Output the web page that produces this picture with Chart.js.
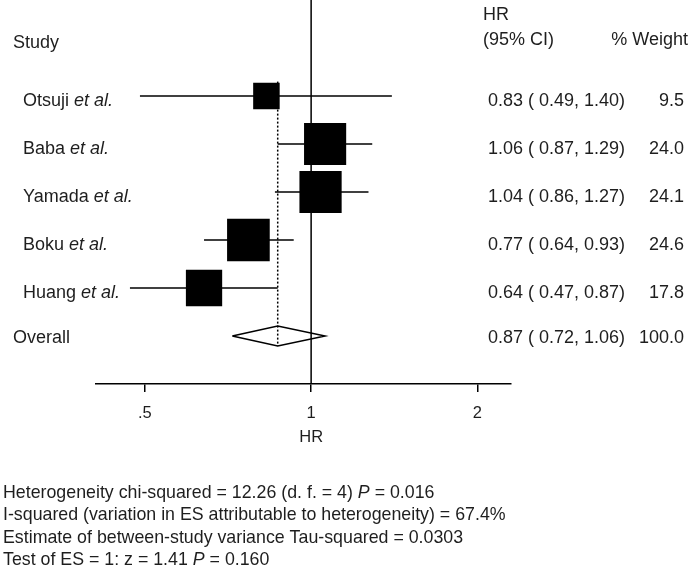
<!DOCTYPE html>
<html>
<head>
<meta charset="utf-8">
<script src="https://cdn.jsdelivr.net/npm/chart.js@4"></script>
<style>
  html, body { margin: 0; padding: 0; background: #fff; }
</style>
</head>
<body>
<canvas id="forest" width="689" height="578"></canvas>
<script>
// study-level estimates (hazard ratios, 95% CI, % weight)
const studies = ['Otsuji', 'Baba', 'Yamada', 'Boku', 'Huang'];
const hr = [0.83, 1.06, 1.04, 0.77, 0.64];
const lower = [0.49, 0.87, 0.86, 0.64, 0.47];
const upper = [1.40, 1.29, 1.27, 0.93, 0.87];
const weights = [9.5, 24.0, 24.1, 24.6, 17.8];
// pooled estimate: HR, lower, upper
const overall = [0.87, 0.72, 1.06];
const overallWeight = 100.0;
const xTicks = [0.5, 1, 2];
const xTickLabels = ['.5', '1', '2'];
const stats = [
  [['Heterogeneity chi-squared = 12.26 (d. f. = 4) ', false], ['P', true], [' = 0.016', false]],
  [['I-squared (variation in ES attributable to heterogeneity) = 67.4%', false]],
  [['Estimate of between-study variance Tau-squared = 0.0303', false]],
  [['Test of ES = 1: z = 1.41 ', false], ['P', true], [' = 0.160', false]]
];

const FONT = '"Liberation Sans", Arial, sans-serif';
const INK = '#1e1e1e';
const overallRow = studies.length;

const lineDs = (pts, extra) => Object.assign({
  data: pts, showLine: true, borderColor: '#000', borderWidth: 1.5,
  pointRadius: 0, fill: false
}, extra || {});

const datasets = [];
// boxes (drawn on top, so first)
datasets.push({
  data: hr.map((v, i) => ({ x: v, y: i })),
  showLine: false,
  pointStyle: 'rect',
  pointRadius: weights.map(w => 8.6 * Math.sqrt(w) / Math.SQRT2),
  backgroundColor: '#000',
  borderWidth: 0
});
// confidence intervals
studies.forEach((s, i) => {
  datasets.push(lineDs([{ x: lower[i], y: i }, { x: upper[i], y: i }]));
});
// pooled diamond
datasets.push(lineDs([
  { x: overall[1], y: overallRow },
  { x: overall[0], y: overallRow - 0.21 },
  { x: overall[2], y: overallRow },
  { x: overall[0], y: overallRow + 0.21 },
  { x: overall[1], y: overallRow }
], { tension: 0 }));
// dotted pooled line
datasets.push(lineDs([{ x: overall[0], y: -0.3 }, { x: overall[0], y: overallRow + 0.21 }],
  { borderDash: [2, 2] }));
// line of no effect
datasets.push(lineDs([{ x: 1, y: -2 }, { x: 1, y: 6 }]));

function drawRuns(ctx, x, y, runs, size, align) {
  const fontFor = it => (it ? 'italic ' : '') + size + 'px ' + FONT;
  let total = 0;
  runs.forEach(r => { ctx.font = fontFor(r[1]); total += ctx.measureText(r[0]).width; });
  let cx = align === 'right' ? x - total : x;
  ctx.textAlign = 'left';
  runs.forEach(r => {
    ctx.font = fontFor(r[1]);
    ctx.fillText(r[0], cx, y);
    cx += ctx.measureText(r[0]).width;
  });
}

const textPlugin = {
  id: 'forestText',
  afterDraw(chart) {
    const ctx = chart.ctx;
    const xs = chart.scales.x, ys = chart.scales.y;
    ctx.save();
    ctx.fillStyle = INK;
    ctx.textBaseline = 'alphabetic';

    // headers
    drawRuns(ctx, 13, 48, [['Study', false]], 18);
    drawRuns(ctx, 483, 20, [['HR', false]], 18);
    drawRuns(ctx, 483, 45, [['(95% CI)', false]], 18);
    drawRuns(ctx, 688, 45, [['% Weight', false]], 18, 'right');

    studies.forEach((s, i) => {
      const y = ys.getPixelForValue(i) + 10;
      drawRuns(ctx, 23, y, [[s + ' ', false], ['et al.', true]], 18);
      const txt = hr[i].toFixed(2) + ' ( ' + lower[i].toFixed(2) + ', ' + upper[i].toFixed(2) + ')';
      drawRuns(ctx, 488, y, [[txt, false]], 18);
      drawRuns(ctx, 684, y, [[weights[i].toFixed(1), false]], 18, 'right');
    });

    const oy = ys.getPixelForValue(overallRow) + 7;
    drawRuns(ctx, 13, oy, [['Overall', false]], 18);
    const otxt = overall[0].toFixed(2) + ' ( ' + overall[1].toFixed(2) + ', ' + overall[2].toFixed(2) + ')';
    drawRuns(ctx, 488, oy, [[otxt, false]], 18);
    drawRuns(ctx, 684, oy, [[overallWeight.toFixed(1), false]], 18, 'right');

    // axis title
    ctx.textAlign = 'center';
    ctx.font = '16.5px ' + FONT;
    ctx.fillText('HR', xs.getPixelForValue(1), 442);

    // heterogeneity stats
    stats.forEach((line, k) => drawRuns(ctx, 3, 498 + k * 22.3, line, 17.8));
    ctx.restore();
  }
};

new Chart(document.getElementById('forest'), {
  type: 'scatter',
  data: { datasets: datasets },
  options: {
    responsive: false,
    animation: false,
    events: [],
    layout: { autoPadding: false, padding: { left: 96, right: 178, top: 0, bottom: 0 } },
    plugins: { legend: { display: false }, tooltip: { enabled: false } },
    scales: {
      x: {
        type: 'logarithmic',
        min: 0.408,
        max: 2.3,
        afterBuildTicks: s => { s.ticks = xTicks.map(v => ({ value: v })); },
        afterFit: s => { s.height = 194; },
        ticks: {
          callback: v => xTickLabels[xTicks.indexOf(v)] || '',
          color: INK,
          font: { family: FONT, size: 16.5 },
          padding: 12,
          autoSkip: false,
          maxRotation: 0
        },
        grid: { drawOnChartArea: false, drawTicks: true, tickLength: 8, color: '#000', lineWidth: 1.5 },
        border: { display: true, color: '#000', width: 1.5 }
      },
      y: { type: 'linear', min: -2, max: 6, reverse: true, display: false }
    }
  },
  plugins: [textPlugin]
});
</script>
</body>
</html>
